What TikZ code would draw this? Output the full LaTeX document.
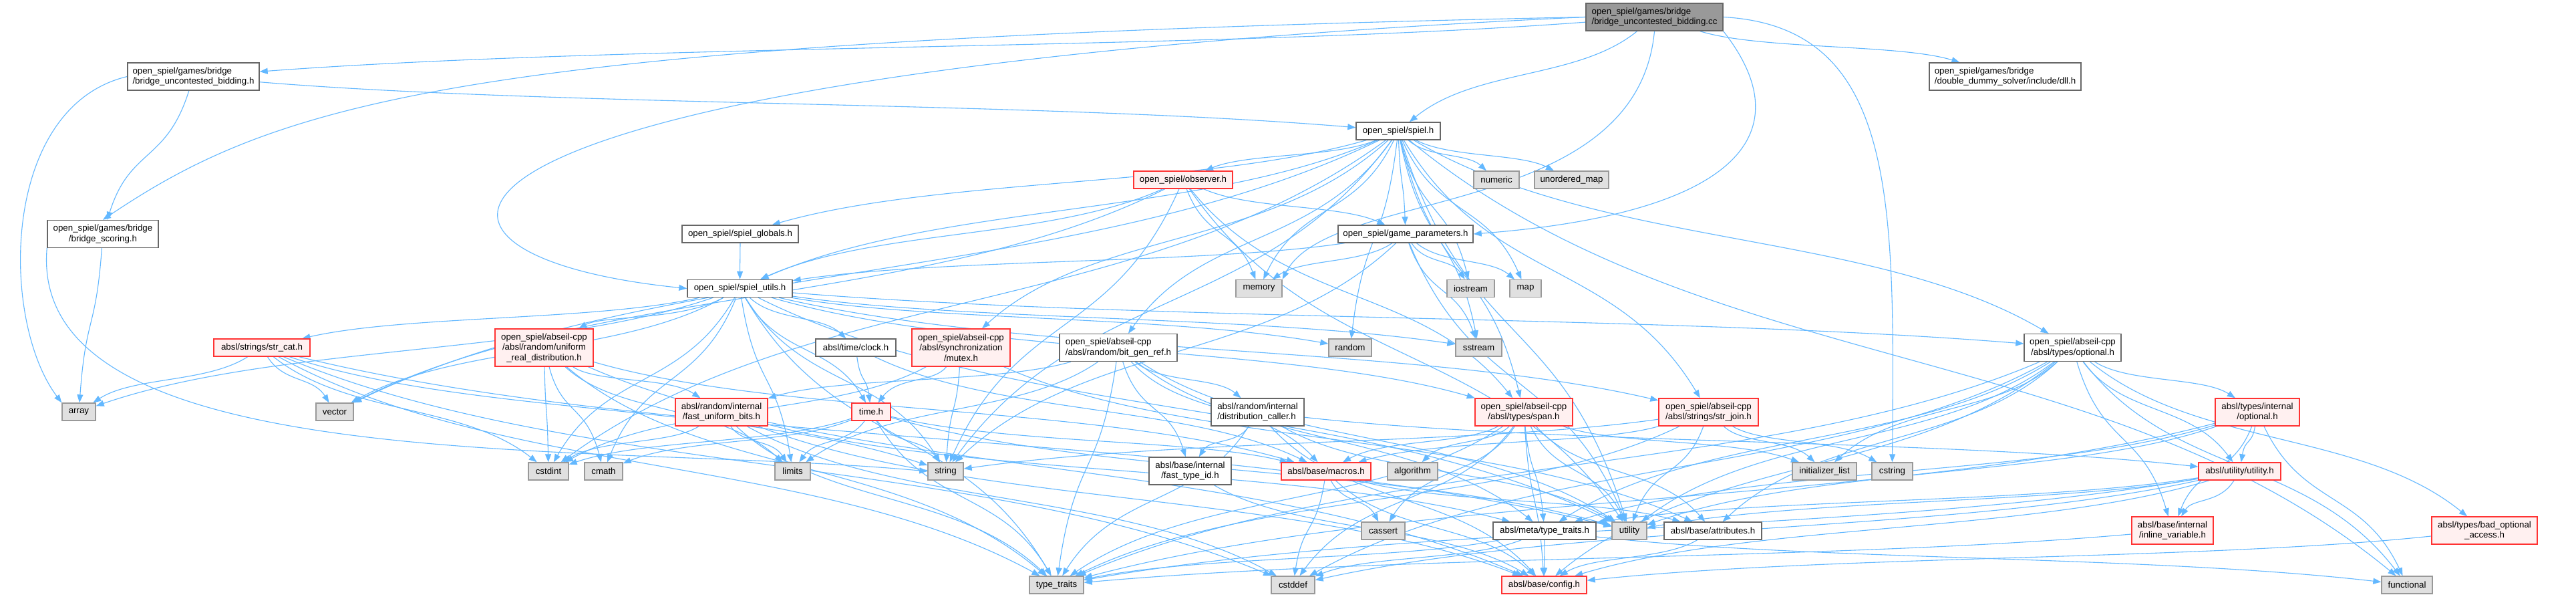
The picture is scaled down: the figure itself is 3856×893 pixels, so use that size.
\documentclass[tikz,border=0pt]{standalone}
\usepackage{fontspec}
\setmainfont{Liberation Sans}
\usetikzlibrary{arrows.meta,calc}
\pgfdeclarelayer{bg}
\pgfsetlayers{bg,main}
\definecolor{edgec}{HTML}{63B8FF}
\definecolor{nodeb}{HTML}{666666}
\definecolor{redb}{HTML}{FF3333}
\definecolor{redf}{HTML}{FFF0F0}
\definecolor{grayf}{HTML}{E0E0E0}
\definecolor{grayb}{HTML}{999999}
\definecolor{rootf}{HTML}{999999}
\begin{document}
\begin{tikzpicture}[x=1pt,y=-1pt,
  box/.style={draw=nodeb, fill=white, line width=1.4pt, inner sep=0pt,
    font=\fontsize{13.3}{15.5}\selectfont, align=center},
  wb/.style={box},
  rb/.style={box, draw=redb, fill=redf},
  gb/.style={box, draw=grayb, fill=grayf},
  root/.style={box, fill=rootf},
  one/.style={minimum height=26pt},
  two/.style={minimum height=41pt},
  three/.style={minimum height=56pt},
  e/.style={draw=edgec, line width=1.1pt, -{Triangle[length=12pt,width=9pt]}},
]
\useasboundingbox (0,0) rectangle (3856,893);

% rank 0
\node[root, two, minimum width=205pt, align=left] (cc) at (2476.5,25.5) {open\_spiel/games/bridge\\/bridge\_uncontested\_bidding.cc};
% rank 1
\node[wb, two, minimum width=197pt, align=left] (buh) at (289.5,114.5) {open\_spiel/games/bridge\\/bridge\_uncontested\_bidding.h};
\node[wb, two, minimum width=227pt, align=left] (dll) at (3001.5,114.5) {open\_spiel/games/bridge\\/double\_dummy\_solver/include/dll.h};
% rank 2
\node[wb, one, minimum width=126pt] (spiel) at (2093,196) {open\_spiel/spiel.h};
% rank 3
\node[rb, one, minimum width=148pt] (observer) at (1771,269) {open\_spiel/observer.h};
\node[gb, one, minimum width=68pt] (numeric) at (2240,269) {numeric};
\node[gb, one, minimum width=111pt] (umap) at (2352.5,269) {unordered\_map};
% rank 4
\node[wb, two, minimum width=166pt] (bsc) at (154,350) {open\_spiel/games/bridge\\/bridge\_scoring.h};
\node[wb, one, minimum width=174pt] (globals) at (1108,350) {open\_spiel/spiel\_globals.h};
\node[wb, one, minimum width=202pt] (gparams) at (2104,350) {open\_spiel/game\_parameters.h};
% rank 5
\node[wb, one, minimum width=157pt] (utils) at (1107.5,431.5) {open\_spiel/spiel\_utils.h};
\node[gb, one, minimum width=69pt] (memory) at (1884.5,431.5) {memory};
\node[gb, one, minimum width=71pt] (iostream) at (2201.5,431.5) {iostream};
\node[gb, one, minimum width=47pt] (map) at (2283.5,431.5) {map};
% rank 6
\node[rb, one, minimum width=144pt] (strcat) at (392,520) {absl/strings/str\_cat.h};
\node[rb, three, minimum width=147pt] (uniform) at (814.5,520) {open\_spiel/abseil-cpp\\/absl/random/uniform\\\_real\_distribution.h};
\node[wb, one, minimum width=120pt] (clock) at (1281,520) {absl/time/clock.h};
\node[rb, three, minimum width=147pt] (mutex) at (1438.5,520) {open\_spiel/abseil-cpp\\/absl/synchronization\\/mutex.h};
\node[wb, two, minimum width=176pt, align=left] (bitgen) at (1674,520) {open\_spiel/abseil-cpp\\/absl/random/bit\_gen\_ref.h};
\node[gb, one, minimum width=64pt] (random) at (2021,520) {random};
\node[gb, one, minimum width=69pt] (sstream) at (2213.5,520) {sstream};
\node[wb, two, minimum width=145pt] (optional) at (3102.5,520) {open\_spiel/abseil-cpp\\/absl/types/optional.h};
% rank 7
\node[gb, one, minimum width=50pt] (array) at (118,616) {array};
\node[gb, one, minimum width=56pt] (vector) at (501,616) {vector};
\node[rb, two, minimum width=138pt] (fub) at (1080,616.5) {absl/random/internal\\/fast\_uniform\_bits.h};
\node[rb, one, minimum width=58pt] (time) at (1304,616) {time.h};
\node[wb, two, minimum width=139pt, align=left] (dcaller) at (1882.5,616.5) {absl/random/internal\\/distribution\_caller.h};
\node[rb, two, minimum width=146pt] (span) at (2281,616.5) {open\_spiel/abseil-cpp\\/absl/types/span.h};
\node[rb, two, minimum width=149pt] (strjoin) at (2557.5,616.5) {open\_spiel/abseil-cpp\\/absl/strings/str\_join.h};
\node[rb, two, minimum width=126pt] (ioptional) at (3379,616.5) {absl/types/internal\\/optional.h};
% rank 8
\node[gb, one, minimum width=60pt] (cstdint) at (821,705) {cstdint};
\node[gb, one, minimum width=57pt] (cmath) at (903.5,705) {cmath};
\node[gb, one, minimum width=53pt] (limits) at (1186.5,705) {limits};
\node[gb, one, minimum width=53pt] (string) at (1415.5,705) {string};
\node[wb, two, minimum width=123pt] (ftid) at (1781.5,704.5) {absl/base/internal\\/fast\_type\_id.h};
\node[rb, one, minimum width=134pt] (macros) at (1985,705) {absl/base/macros.h};
\node[gb, one, minimum width=75pt] (algorithm) at (2114.5,705) {algorithm};
\node[gb, one, minimum width=96pt] (initlist) at (2731,705) {initializer\_list};
\node[gb, one, minimum width=61pt] (cstring) at (2832.5,705) {cstring};
\node[rb, one, minimum width=123pt] (utilityh) at (3352.5,705) {absl/utility/utility.h};
% rank 9
\node[gb, one, minimum width=65pt] (cassert) at (2070.5,794) {cassert};
\node[wb, one, minimum width=154pt] (mtt) at (2312,794) {absl/meta/type\_traits.h};
\node[gb, one, minimum width=52pt] (utility) at (2439,794) {utility};
\node[wb, one, minimum width=146pt] (attributes) at (2564,794) {absl/base/attributes.h};
\node[rb, two, minimum width=122pt] (inline) at (3252,793.5) {absl/base/internal\\/inline\_variable.h};
\node[rb, two, minimum width=158pt] (bad) at (3719,793.5) {absl/types/bad\_optional\\\_access.h};
% rank 10
\node[gb, one, minimum width=81pt] (typetraits) at (1581.5,875) {type\_traits};
\node[gb, one, minimum width=65pt] (cstddef) at (1935.5,875) {cstddef};
\node[rb, one, minimum width=127pt] (config) at (2311.5,875) {absl/base/config.h};
\node[gb, one, minimum width=76pt] (functional) at (3603,875) {functional};

\begin{pgfonlayer}{bg}
\fill[white] (0,0) rectangle (3856,893);
\foreach \a/\b in {
 cc/buh, cc/dll, cc/spiel,
 buh/bsc, buh/spiel,
 bsc/array,
 spiel/observer, spiel/numeric, spiel/umap, spiel/globals, spiel/utils, spiel/gparams,
 spiel/memory, spiel/iostream, spiel/map, spiel/random, spiel/sstream, spiel/mutex,
 spiel/bitgen, spiel/optional, spiel/span, spiel/strjoin, spiel/cstdint, spiel/functional,
 spiel/string, spiel/utility, spiel/vector,
 observer/gparams, observer/utils, observer/memory, observer/string, observer/utility,
 observer/vector, observer/span,
 globals/utils,
 gparams/utils, gparams/memory, gparams/iostream, gparams/map, gparams/string,
 gparams/utility, gparams/sstream,
 utils/array, utils/vector, utils/strcat, utils/uniform, utils/clock, utils/time,
 utils/cstdint, utils/cmath, utils/limits, utils/string, utils/random, utils/sstream,
 utils/optional, utils/span, utils/strjoin, utils/typetraits, utils/utility,
 strcat/array, strcat/vector, strcat/cstdint, strcat/string, strcat/typetraits,
 strcat/cstddef, strcat/utility,
 uniform/cstdint, uniform/cmath, uniform/limits, uniform/fub, uniform/typetraits,
 uniform/config, uniform/macros,
 fub/cstddef, fub/cstdint, fub/limits, fub/typetraits, fub/config, fub/mtt,
 time/cmath, time/cstdint, time/limits, time/typetraits, time/utility, time/string, time/macros,
 clock/time, clock/macros,
 mutex/cstdint, mutex/time, mutex/string, mutex/attributes,
 bitgen/fub, bitgen/limits, bitgen/typetraits, bitgen/utility, bitgen/ftid, bitgen/dcaller,
 bitgen/macros, bitgen/mtt,
 dcaller/ftid, dcaller/typetraits, dcaller/utility, dcaller/utilityh, dcaller/config,
 ftid/config,
 span/macros, span/algorithm, span/cassert, span/cstddef, span/typetraits, span/mtt,
 span/utility, span/attributes, span/initlist, span/config,
 strjoin/macros, strjoin/string, strjoin/utility, strjoin/typetraits, strjoin/initlist, strjoin/cstring,
 optional/initlist, optional/utility, optional/typetraits, optional/mtt, optional/attributes,
 optional/config, optional/cstddef, optional/inline, optional/utilityh, optional/ioptional,
 optional/functional, optional/bad,
 ioptional/typetraits, ioptional/utility, ioptional/utilityh, ioptional/inline, ioptional/mtt,
 ioptional/functional,
 utilityh/cstddef, utilityh/typetraits, utilityh/utility, utilityh/config, utilityh/inline, utilityh/mtt,
 inline/typetraits,
 bad/config,
 macros/cstddef, macros/config, macros/cassert, macros/attributes,
 mtt/cstddef, mtt/config, mtt/functional, mtt/typetraits,
 attributes/config}
 { \draw[e] let \p1=(\a.center), \p2=(\b.center) in
     (\a) .. controls ({\x1+0.3*(\x2-\x1)},{\y1+0.55*(\y2-\y1)})
              and ({\x1+0.7*(\x2-\x1)},{\y1+0.45*(\y2-\y1)}) .. (\b); }
% curved long edges
\draw[e] (cc.west) .. controls (700,60) and (420,150) .. (bsc.north);
\draw[e] (cc.west) .. controls (560,110) and (520,380) .. (utils.west);
\draw[e] (cc.south) .. controls (2450,330) and (1990,280) .. (memory.north east);
\draw[e] (cc.south east) .. controls (2700,200) and (2600,320) .. (gparams.east);
\draw[e] (cc.east) .. controls (2840,40) and (2836,300) .. (cstring.north);
\draw[e] (buh.west) .. controls (0,160) and (0,480) .. (array.north west);
\draw[e] (bsc.south west) .. controls (40,720) and (900,660) .. (string.west);
\end{pgfonlayer}
\end{tikzpicture}
\end{document}
